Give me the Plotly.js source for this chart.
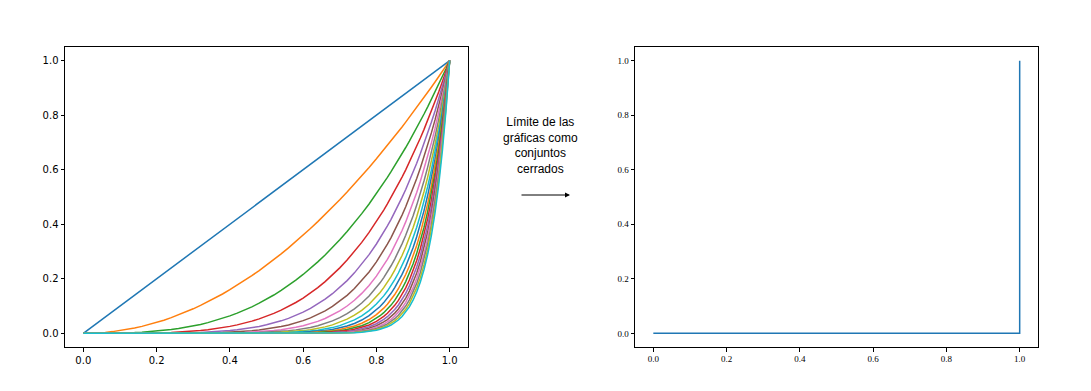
<!DOCTYPE html>
<html>
<head>
<meta charset="utf-8">
<script src="https://cdn.plot.ly/plotly-3.0.1.min.js"></script>
<style>html,body{margin:0;padding:0;background:#fff}#chart{width:1091px;height:391px}</style>
</head>
<body>
<div id="chart"></div>
<script>
// Exponents of the curves y = x^n in the left panel
const exponents = [1,2,3,4,5,6,7,8,9,10,11,12,13,14,15,16,17,18,19,20];
// Sample x positions on [0, 1]
const xSamples = [0,0.02,0.04,0.06,0.08,0.1,0.12,0.14,0.16,0.18,0.2,0.22,0.24,0.26,0.28,0.3,0.32,0.34,0.36,0.38,0.4,0.42,0.44,0.46,0.48,0.5,0.52,0.54,0.56,0.58,0.6,0.62,0.64,0.66,0.68,0.7,0.72,0.74,0.76,0.78,0.8,0.81,0.82,0.83,0.84,0.85,0.86,0.87,0.88,0.89,0.9,0.91,0.92,0.93,0.94,0.95,0.96,0.97,0.98,0.99,1];
// Right panel: limit set (closed graph)
const limitX = [0, 1, 1];
const limitY = [0, 0, 1];
const tickVals = [0, 0.2, 0.4, 0.6, 0.8, 1.0];
const tickText = ['0.0','0.2','0.4','0.6','0.8','1.0'];
const annotationText = 'Límite de las<br>gráficas como<br>conjuntos<br>cerrados';

const palette = ['#1f77b4','#ff7f0e','#2ca02c','#d62728','#9467bd','#8c564b','#e377c2','#7f7f7f','#bcbd22','#17becf'];

const traces = exponents.map((n, i) => ({
  x: xSamples,
  y: xSamples.map(v => Math.pow(v, n)),
  type: 'scatter', mode: 'lines',
  line: {color: palette[i % 10], width: 1.5},
  xaxis: 'x', yaxis: 'y', hoverinfo: 'skip'
}));
traces.push({
  x: limitX, y: limitY, type: 'scatter', mode: 'lines',
  line: {color: '#1f77b4', width: 1.5},
  xaxis: 'x2', yaxis: 'y2', hoverinfo: 'skip'
});

function axis(domain, anchor, font) {
  return {
    domain: domain, anchor: anchor, range: [-0.05, 1.05],
    showline: true, mirror: true, linecolor: '#000', linewidth: 1,
    ticks: 'outside', ticklen: 3.5, tickwidth: 1, tickcolor: '#000',
    tickvals: tickVals, ticktext: tickText,
    showgrid: false, zeroline: false, tickfont: font, automargin: false
  };
}
const sansFont = {family: 'DejaVu Sans', size: 10, color: '#000'};
const serifFont = {family: 'Liberation Serif', size: 9, color: '#000'};
const yDom = [1 - 347/391, 1 - 47/391];

const layout = {
  width: 1091, height: 391,
  margin: {l: 0, r: 0, t: 0, b: 0},
  paper_bgcolor: '#fff', plot_bgcolor: '#fff',
  showlegend: false,
  xaxis: axis([65/1091, 468/1091], 'y', sansFont),
  yaxis: axis(yDom, 'x', sansFont),
  xaxis2: axis([635/1091, 1038/1091], 'y2', serifFont),
  yaxis2: axis(yDom, 'x2', serifFont),
  annotations: [
    {xref: 'paper', yref: 'paper', x: 540/1091, y: 1 - 145.5/391,
     text: annotationText, showarrow: false, align: 'center',
     font: {family: 'Liberation Sans', size: 12, color: '#000'}},
    {xref: 'paper', yref: 'paper', x: 570/1091, y: 1 - 195/391,
     text: '', showarrow: true, ax: -50, ay: 0,
     arrowhead: 2, arrowsize: 1, arrowwidth: 1, arrowcolor: '#000'}
  ]
};
Plotly.newPlot('chart', traces, layout, {staticPlot: true, displayModeBar: false});
</script>
</body>
</html>
